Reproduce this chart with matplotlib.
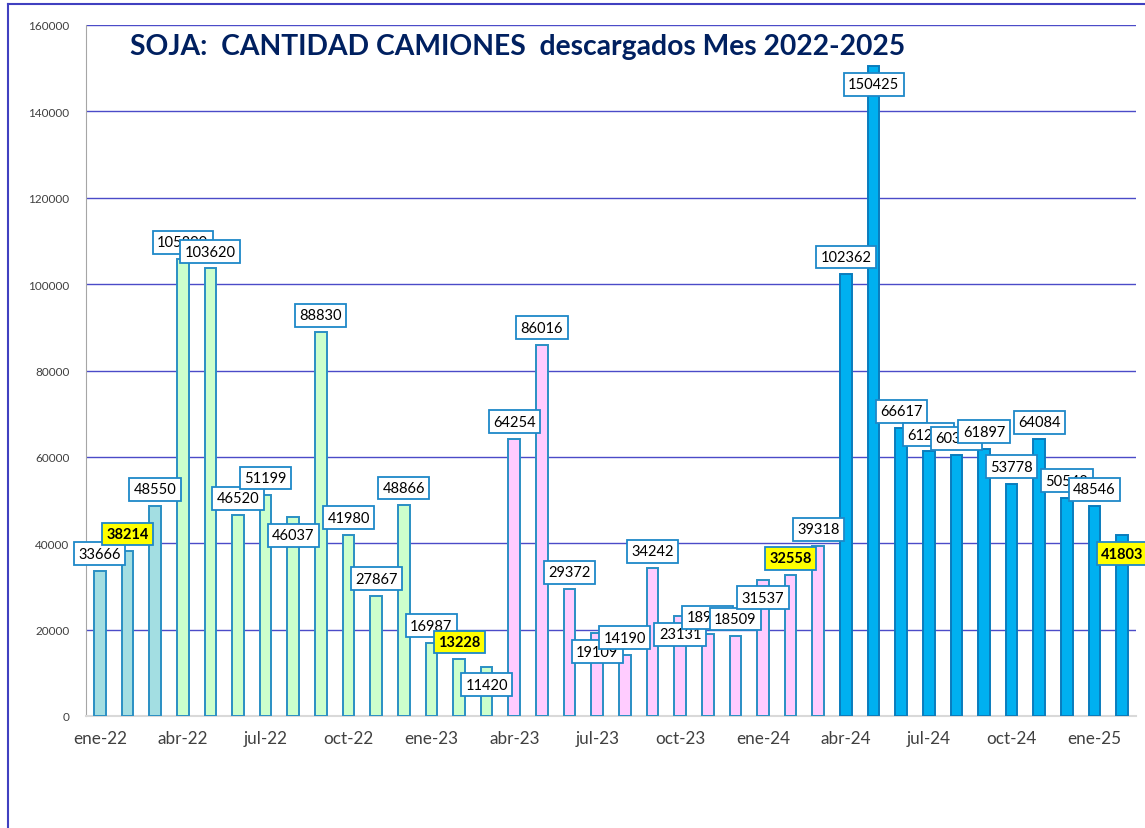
import matplotlib.pyplot as plt
from matplotlib.lines import Line2D

# monthly trucks unloaded (soja)
meses = ['ene-22', 'feb-22', 'mar-22', 'abr-22', 'may-22', 'jun-22', 'jul-22', 'ago-22',
         'sep-22', 'oct-22', 'nov-22', 'dic-22', 'ene-23', 'feb-23', 'mar-23', 'abr-23',
         'may-23', 'jun-23', 'jul-23', 'ago-23', 'sep-23', 'oct-23', 'nov-23', 'dic-23',
         'ene-24', 'feb-24', 'mar-24', 'abr-24', 'may-24', 'jun-24', 'jul-24', 'ago-24',
         'sep-24', 'oct-24', 'nov-24', 'dic-24', 'ene-25', 'feb-25']
camiones = [33666, 38214, 48550, 105800, 103620, 46520, 51199, 46037,
            88830, 41980, 27867, 48866, 16987, 13228, 11420, 64254,
            86016, 29372, 19109, 14190, 34242, 23131, 18950, 18509,
            31537, 32558, 39318, 102362, 150425, 66617, 61250, 60350,
            61897, 53778, 64084, 50548, 48546, 41803]
campana = ['2021/22'] * 3 + ['2022/23'] * 12 + ['2023/24'] * 12 + ['2024/25'] * 11
resaltados = ['feb-22', 'feb-23', 'feb-24', 'feb-25']
ticks_x = ['ene-22', 'abr-22', 'jul-22', 'oct-22', 'ene-23', 'abr-23', 'jul-23',
           'oct-23', 'ene-24', 'abr-24', 'jul-24', 'oct-24', 'ene-25']

# styling
colores = {'2021/22': '#A3DEE2', '2022/23': '#CCFFCC', '2023/24': '#FFCCFF', '2024/25': '#00B0F0'}
bordes = {'2021/22': '#2A8FC4', '2022/23': '#2A8FC4', '2023/24': '#2A8FC4', '2024/25': '#0A7CBD'}
etiqueta_abajo = ['ago-22', 'mar-23', 'jul-23', 'oct-23', 'ene-24', 'may-24', 'feb-25']

plt.rcParams['font.family'] = ['Lato', 'DejaVu Sans']

fig = plt.figure(figsize=(11.45, 8.29), dpi=100)
ax = fig.add_axes([86 / 1145, 1 - 717 / 829, 1050 / 1145, 691 / 829])

x = list(range(len(meses)))
ax.bar(x, camiones, width=0.42,
       color=[colores[c] for c in campana],
       edgecolor=[bordes[c] for c in campana], linewidth=1.4, zorder=3)

ax.set_xlim(-0.5, len(meses) - 0.5)
ax.set_ylim(0, 160000)
ax.set_yticks(range(0, 160001, 20000))
ax.set_yticklabels([str(v) for v in range(0, 160001, 20000)], fontsize=8.5, color='#404040')
ax.set_xticks([meses.index(m) for m in ticks_x])
ax.set_xticklabels(ticks_x, fontsize=12.3, color='#404040')
ax.tick_params(axis='both', length=0)
ax.tick_params(axis='y', pad=12)
ax.tick_params(axis='x', pad=10)

ax.grid(axis='y', color='#4B4BC8', linewidth=1.0, zorder=0)
ax.set_axisbelow(True)
for s in ['top', 'right']:
    ax.spines[s].set_visible(False)
ax.spines['left'].set_color('#A6A6A6')
ax.spines['bottom'].set_color('#D9D9D9')
ax.spines['bottom'].set_linewidth(1.5)

# data labels
for i, (m, v) in enumerate(zip(meses, camiones)):
    dy = -13 if m in etiqueta_abajo else 12.2
    if m in resaltados:
        fc, fw = '#FFFF00', 'bold'
    else:
        fc, fw = 'white', 'normal'
    ax.annotate(str(v), xy=(i, v), xytext=(0, dy), textcoords='offset points',
                ha='center', va='center', fontsize=10.5, fontweight=fw, color='black',
                bbox=dict(boxstyle='square,pad=0.3', fc=fc, ec='#1E88C8', lw=1.3),
                zorder=10 + i, annotation_clip=False)

fig.text(518 / 1145, 1 - 47 / 829, 'SOJA:  CANTIDAD CAMIONES  descargados Mes 2022-2025',
         ha='center', va='center', fontsize=20.3, fontweight='bold', color='#002060')

# chart area border
fig.add_artist(Line2D([8 / 1145, 8 / 1145], [0, 1 - 5 / 829], color='#4040C0', lw=1.5))
fig.add_artist(Line2D([8 / 1145, 1], [1 - 5 / 829, 1 - 5 / 829], color='#4040C0', lw=1.5))

plt.savefig('out.png', dpi=100)
